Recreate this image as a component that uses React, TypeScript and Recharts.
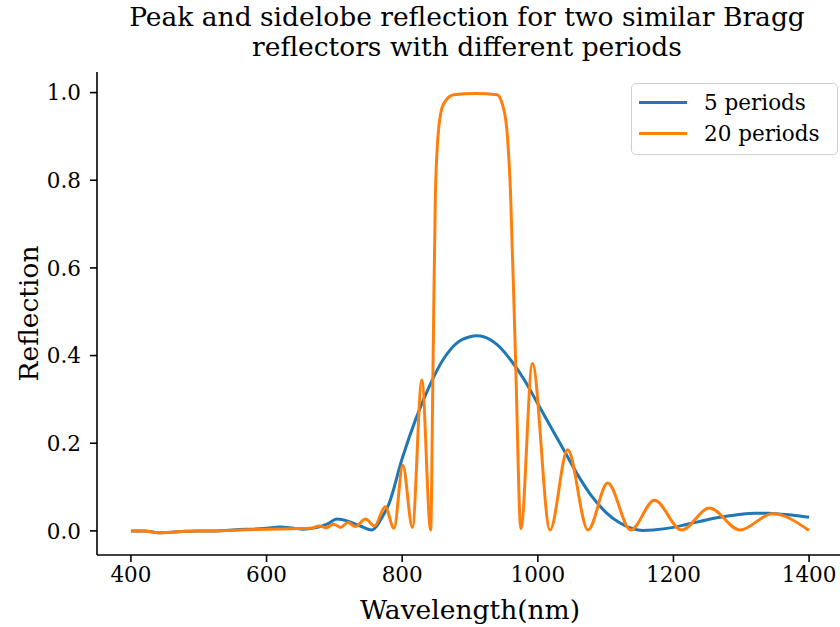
import React from "react";
import { LineChart, Line, XAxis, YAxis } from "recharts";

// 5-period reflector (smooth envelope)
const WL_5 = [
  400, 420, 440, 460, 480, 500, 520, 540, 560, 580, 600, 620, 640, 655, 675,
  690, 704, 720, 740, 755, 770, 780, 800, 820, 840, 860, 880, 900, 910, 920,
  940, 960, 980, 1000, 1020, 1040, 1060, 1080, 1100, 1120, 1140, 1155, 1170,
  1200, 1220, 1240, 1260, 1280, 1300, 1320, 1340, 1360, 1380, 1400,
];
const R_5 = [
  0.0, 0.0, -0.004, -0.003, -0.001, 0.0, 0.0, 0.001, 0.003, 0.004, 0.006,
  0.009, 0.006, 0.004, 0.008, 0.016, 0.027, 0.022, 0.01, 0.002, 0.03, 0.06,
  0.165, 0.255, 0.33, 0.39, 0.428, 0.443, 0.445, 0.443, 0.425, 0.39, 0.345,
  0.29, 0.235, 0.18, 0.125, 0.078, 0.043, 0.019, 0.005, 0.001, 0.002, 0.008,
  0.015, 0.022, 0.029, 0.034, 0.038, 0.04, 0.04, 0.038, 0.035, 0.031,
];

// 20-period reflector (stopband + sidelobes)
const WL_20 = [
  400, 420, 440, 460, 480, 500, 520, 560, 600, 640, 665, 678, 688, 699, 709,
  720, 731, 746, 759, 775, 788, 801, 815, 829, 842, 845.6, 849, 854, 861, 876,
  908, 940, 947.6, 954, 959.8, 967.2, 975, 992, 1018, 1044, 1074, 1103, 1137,
  1172, 1212, 1253, 1298, 1346, 1400,
];
const R_20 = [
  0.0, 0.0, -0.004, -0.003, -0.001, 0.0, 0.0, 0.002, 0.004, 0.005, 0.006,
  0.011, 0.007, 0.015, 0.008, 0.019, 0.01, 0.027, 0.011, 0.055, 0.006, 0.15,
  0.008, 0.344, 0.002, 0.39, 0.77, 0.921, 0.974, 0.995, 0.998, 0.995, 0.974,
  0.921, 0.77, 0.39, 0.005, 0.382, 0.002, 0.185, 0.002, 0.109, 0.002, 0.07,
  0.002, 0.052, 0.002, 0.039, 0.001,
];

const X_TICKS = [400, 600, 800, 1000, 1200, 1400];
const Y_TICKS = [0, 0.2, 0.4, 0.6, 0.8, 1.0];

const SERIES = [
  { name: "5 periods", color: "#1f77b4" },
  { name: "20 periods", color: "#ff7f0e" },
];

const five = WL_5.map((nm, i) => ({ nm, r: R_5[i] }));
const twenty = WL_20.map((nm, i) => ({ nm, r: R_20[i] }));

const FONT = "'DejaVu Serif', serif";
const tickStyle = { fill: "#000", fontSize: 21.5, fontFamily: FONT };
const axisLine = { stroke: "#000", strokeWidth: 1.6 };

function LegendBox() {
  return (
    <div
      style={{
        position: "absolute",
        left: 631,
        top: 83,
        width: 207,
        height: 72,
        boxSizing: "border-box",
        border: "1.5px solid #d0d0d0",
        borderRadius: 5,
        background: "rgba(255,255,255,0.8)",
        padding: "3px 0 0 7px",
        fontFamily: FONT,
        fontSize: 21.5,
        lineHeight: "31px",
        color: "#000",
      }}
    >
      {SERIES.map((s) => (
        <div key={s.name} style={{ display: "flex", alignItems: "center" }}>
          <span
            style={{
              display: "inline-block",
              width: 48,
              height: 3,
              background: s.color,
              marginRight: 17,
            }}
          />
          {s.name}
        </div>
      ))}
    </div>
  );
}

export default function App() {
  return (
    <div
      style={{
        position: "absolute",
        left: 0,
        top: 0,
        width: 840,
        height: 627,
        overflow: "hidden",
        background: "#fff",
      }}
    >
      <div
        style={{
          position: "absolute",
          left: 0,
          width: 934,
          top: 2,
          textAlign: "center",
          fontFamily: FONT,
          fontSize: 26.5,
          lineHeight: "30px",
          color: "#000",
        }}
      >
        Peak and sidelobe reflection for two similar Bragg
        <br />
        reflectors with different periods
      </div>
      <LineChart
        width={900}
        height={627}
        margin={{ top: 72, right: 57, left: 0, bottom: 0 }}
      >
        <XAxis
          dataKey="nm"
          type="number"
          domain={[350, 1450]}
          ticks={X_TICKS}
          allowDataOverflow
          height={72}
          tick={tickStyle}
          tickSize={7}
          tickMargin={5}
          tickLine={axisLine}
          axisLine={axisLine}
          label={(props: any) => {
            const vb = props.viewBox;
            return (
              <text
                x={vb.x + vb.width / 2}
                y={609}
                textAnchor="middle"
                dominantBaseline="central"
                fontFamily={FONT}
                fontSize={26.5}
                fill="#000"
              >
                Wavelength(nm)
              </text>
            );
          }}
        />
        <XAxis
          xAxisId="top"
          orientation="top"
          dataKey="nm"
          type="number"
          domain={[350, 1450]}
          height={0}
          tick={false}
          tickLine={false}
          axisLine={axisLine}
        />
        <YAxis
          type="number"
          domain={[-0.055, 1.047]}
          ticks={Y_TICKS}
          allowDataOverflow
          width={97}
          tick={tickStyle}
          tickSize={7}
          tickMargin={9}
          tickLine={axisLine}
          axisLine={axisLine}
          tickFormatter={(v: number) => v.toFixed(1)}
          label={(props: any) => {
            const vb = props.viewBox;
            const cx = 28;
            const cy = vb.y + vb.height / 2;
            return (
              <text
                x={cx}
                y={cy}
                transform={`rotate(-90 ${cx} ${cy})`}
                textAnchor="middle"
                dominantBaseline="central"
                fontFamily={FONT}
                fontSize={26.5}
                fill="#000"
              >
                Reflection
              </text>
            );
          }}
        />
        <Line
          data={five}
          dataKey="r"
          name={SERIES[0].name}
          type="monotone"
          stroke={SERIES[0].color}
          strokeWidth={3}
          dot={false}
          isAnimationActive={false}
        />
        <Line
          data={twenty}
          dataKey="r"
          name={SERIES[1].name}
          type="monotone"
          stroke={SERIES[1].color}
          strokeWidth={3}
          dot={false}
          isAnimationActive={false}
        />
      </LineChart>
      <LegendBox />
    </div>
  );
}
